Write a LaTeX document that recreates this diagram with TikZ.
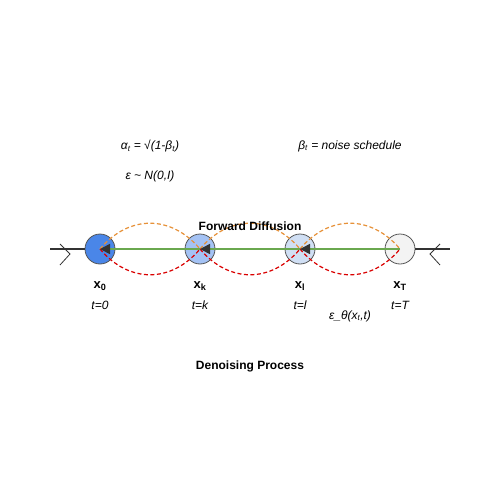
\documentclass[tikz,border=0pt]{standalone}
\usepackage{fontspec}
\setmainfont{Liberation Sans}
\usetikzlibrary{arrows.meta}
\definecolor{lineblk}{HTML}{333333}
\definecolor{ringgray}{HTML}{555555}
\definecolor{fwdgreen}{HTML}{6AA84F}
\definecolor{uporange}{HTML}{E69138}
\definecolor{downred}{HTML}{D90000}
\definecolor{fillA}{HTML}{4A86E8}
\definecolor{fillB}{HTML}{A4C2F4}
\definecolor{fillC}{HTML}{D0DFF4}
\definecolor{fillD}{HTML}{F3F3F3}
\tikzset{
	xnode/.style={circle,draw=ringgray,line width=0.8pt,minimum size=30pt,inner sep=0pt},
	fwd/.style={draw=fwdgreen,line width=1.6pt,-{Triangle[length=10pt,width=10pt,color=lineblk]}},
	noiseup/.style={draw=uporange,line width=1.2pt,dash pattern=on 4pt off 2.5pt,bend left=50,looseness=1.15},
	noisedown/.style={draw=downred,line width=1.2pt,dash pattern=on 4pt off 2.5pt,bend right=50,looseness=1.15},
	lbl/.style={font=\fontsize{12}{14}\selectfont\itshape},
	xlbl/.style={font=\fontsize{13}{15}\selectfont\bfseries},
	ttl/.style={font=\fontsize{12}{14}\selectfont\bfseries}
}
\begin{document}
\begin{tikzpicture}[x=1pt,y=-1pt,font=\fontsize{12}{14}\selectfont]
		\useasboundingbox (0,0) rectangle (500,500);
		%
		\coordinate (lend) at (50,249);
		\coordinate (rend) at (450,249);
		\node[xnode,fill=fillA] (x0) at (100,249) {};
		\node[xnode,fill=fillB] (xk) at (200,249) {};
		\node[xnode,fill=fillC] (xl) at (300,249) {};
		\node[xnode,fill=fillD] (xT) at (400,249) {};
		%
		\draw[line width=1.8pt,lineblk] (lend) -- (x0.west);
		\draw[line width=1.8pt,lineblk] (xT.east) -- (rend);
		\draw[thick,lineblk] (60,244) -- (70,254) -- (60,265);   % chevron left
		\draw[thick,lineblk] (440,244) -- (430,254) -- (440,265); % chevron right
		%
		\draw[noiseup] (x0.center) to (xk.center);
		\draw[noiseup] (xk.center) to (xl.center);
		\draw[noiseup] (xl.center) to (xT.center);
		\draw[noisedown] (x0.center) to (xk.center);
		\draw[noisedown] (xk.center) to (xl.center);
		\draw[noisedown] (xl.center) to (xT.center);
		%
		\draw[fwd] (xT.center) -- (xl.center);
		\draw[fwd] (xl.center) -- (xk.center);
		\draw[fwd] (xk.center) -- (x0.center);
		%
		\node[xlbl] (lx0) at (100,286) {x\textsubscript{0}};
		\node[xlbl] (lxk) at (200,286) {x\textsubscript{k}};
		\node[xlbl] (lxl) at (300,286) {x\textsubscript{l}};
		\node[xlbl] (lxT) at (400,286) {x\textsubscript{T}};
		\node[lbl] (t0) at (100,305) {t=0};
		\node[lbl] (tk) at (200,305) {t=k};
		\node[lbl] (tl) at (300,305) {t=l};
		\node[lbl] (tT) at (400,305) {t=T};
		%
		\node[lbl] (alpha) at (150,146) {α\textsubscript{t} = √(1-β\textsubscript{t})};
		\node[lbl] (beta) at (350,146) {β\textsubscript{t} = noise schedule};
		\node[lbl] (eps) at (150,176) {ε \textasciitilde{} N(0,I)};
		\node[lbl] (epsth) at (350,316) {ε\_θ(x\textsubscript{t},t)};
		\node[ttl] (fwdlbl) at (250,226) {Forward Diffusion};
		\node[ttl] (denlbl) at (250,366) {Denoising Process};
\end{tikzpicture}
\end{document}
